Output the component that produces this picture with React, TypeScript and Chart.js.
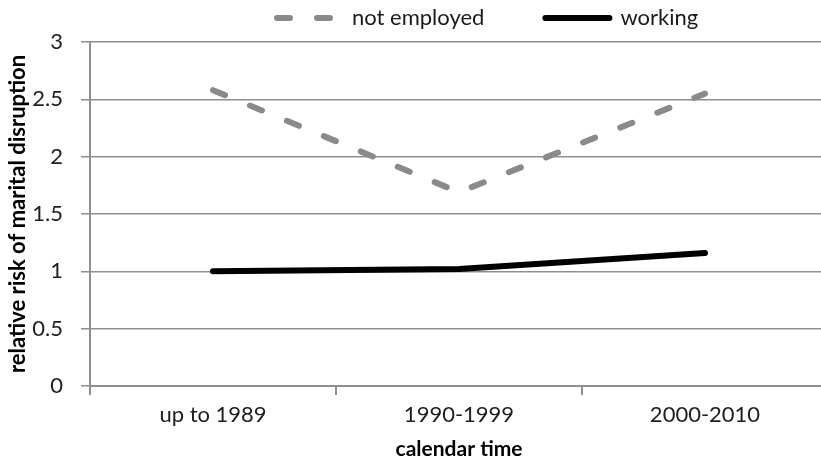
import React, { useEffect, useRef } from 'react';
import { Chart, registerables } from 'chart.js';

Chart.register(...registerables);

// ---- data ----
const categories = ['up to 1989', '1990-1999', '2000-2010'];
const notEmployed = [2.58, 1.69, 2.55];
const working = [1.0, 1.02, 1.16];
const yTicks = [0, 0.5, 1, 1.5, 2, 2.5, 3];
const seriesLabels = ['not employed', 'working'];
const xTitle = 'calendar time';
const yTitle = 'relative risk of marital disruption';

// ---- layout constants ----
const LEGEND_X = 277;
const LEGEND_Y = 18;
const GRID = '#8f8f8f';
const FONT = 'Lato';

const legendPos = {
  id: 'legendPos',
  afterLayout(chart: any) {
    const lg: any = chart.legend;
    if (!lg || !lg.lineWidths || !lg.lineWidths.length) return;
    const pad = lg.options.labels.padding;
    const lw = lg.lineWidths[0];
    const fontSize = lg.options.labels.font.size;
    lg.left = 0;
    lg.right = 2 * LEGEND_X - pad + lw;
    lg.width = lg.right;
    lg.top = LEGEND_Y - pad - fontSize / 2;
  },
};

export default function App() {
  const ref = useRef<HTMLCanvasElement | null>(null);
  useEffect(() => {
    document.body.style.margin = '0';
    document.documentElement.style.overflow = 'hidden';
    const chart = new Chart(ref.current as HTMLCanvasElement, {
      type: 'line',
      data: {
        labels: categories,
        datasets: [
          {
            label: seriesLabels[0],
            data: notEmployed,
            borderColor: '#8a8a8a',
            backgroundColor: '#8a8a8a',
            borderWidth: 6,
            borderDash: [13, 27],
            borderCapStyle: 'round',
            pointRadius: 0,
            tension: 0,
          },
          {
            label: seriesLabels[1],
            data: working,
            borderColor: '#000000',
            backgroundColor: '#000000',
            borderWidth: 6,
            borderCapStyle: 'round',
            pointRadius: 0,
            tension: 0,
          },
        ],
      },
      options: {
        animation: false,
        responsive: true,
        maintainAspectRatio: false,
        layout: { padding: { left: 0, right: 2, top: 0, bottom: 0 } },
        plugins: {
          tooltip: { enabled: false },
          legend: {
            position: 'top',
            maxHeight: 42,
            labels: {
              usePointStyle: true,
              pointStyle: 'line',
              pointStyleWidth: 64,
              padding: 61,
              color: '#1a1a1a',
              font: { family: FONT, size: 22 },
              generateLabels: (chart: any) =>
                chart.data.datasets.map((ds: any, i: number) => ({
                  text: ds.label,
                  datasetIndex: i,
                  fillStyle: ds.borderColor,
                  strokeStyle: ds.borderColor,
                  lineWidth: ds.borderWidth,
                  lineDash: ds.borderDash || [],
                  lineCap: ds.borderCapStyle,
                  pointStyle: 'line',
                  fontColor: '#1a1a1a',
                  hidden: false,
                })),
            },
          },
        },
        scales: {
          x: {
            type: 'category',
            offset: true,
            afterFit: (s: any) => { s.height = 83; },
            grid: {
              display: true,
              offset: true,
              drawOnChartArea: false,
              drawTicks: true,
              tickLength: 9,
              color: GRID,
              lineWidth: 2,
            },
            border: { display: true, color: GRID, width: 2 },
            ticks: {
              color: '#1e1e1e',
              font: { family: FONT, size: 22 },
              padding: 7,
              maxRotation: 0,
            },
            title: {
              display: true,
              text: xTitle,
              color: '#000',
              font: { family: FONT, size: 21, weight: 'bold' },
              padding: { top: 0, bottom: 7 },
            },
          },
          y: {
            min: 0,
            max: 3,
            afterFit: (s: any) => { s.width = 90; },
            afterBuildTicks: (s: any) => { s.ticks = yTicks.map((v) => ({ value: v })); },
            grid: {
              color: GRID,
              lineWidth: 1.5,
              tickLength: 9,
              drawTicks: true,
            },
            border: { display: true, color: GRID, width: 2 },
            ticks: {
              color: '#1e1e1e',
              font: { family: FONT, size: 22 },
              padding: 18,
              callback: (v: any) => String(v),
            },
            title: {
              display: true,
              text: yTitle,
              color: '#000',
              font: { family: FONT, size: 22, weight: 'bold' },
              padding: { top: 5, bottom: 0 },
            },
          },
        },
      },
      plugins: [legendPos],
    } as any);
    return () => chart.destroy();
  }, []);

  return (
    <div style={{ position: 'relative', width: 830, height: 469 }}>
      <canvas ref={ref} />
    </div>
  );
}
